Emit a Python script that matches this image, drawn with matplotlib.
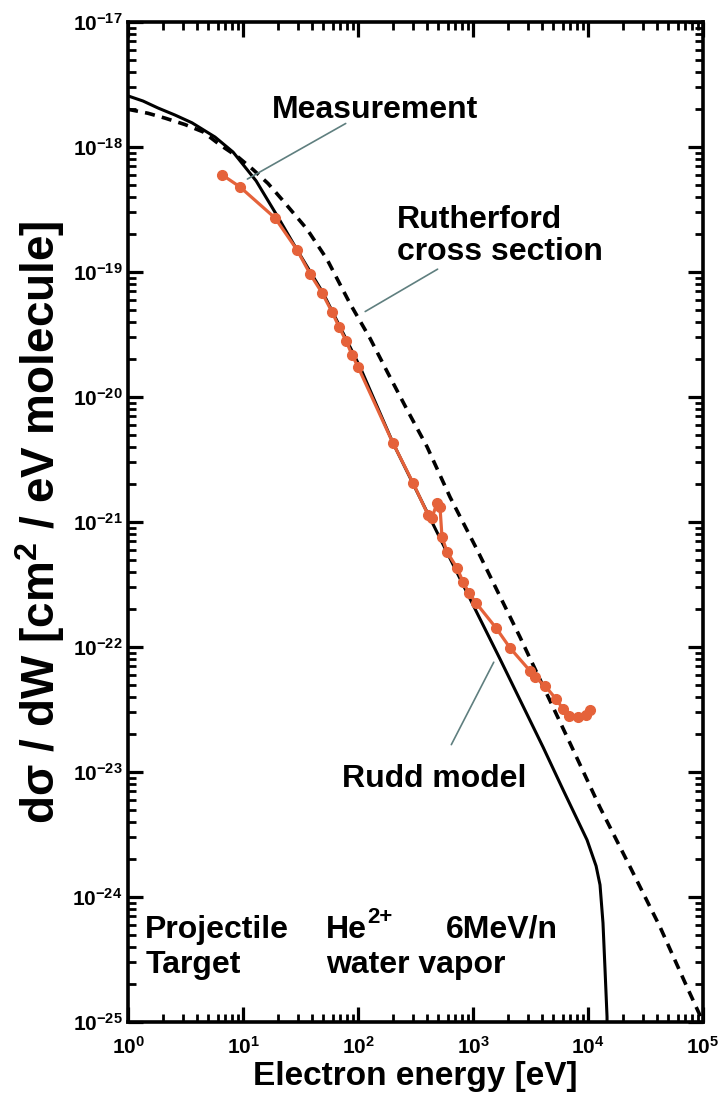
import matplotlib
matplotlib.use("Agg")
import matplotlib.pyplot as plt
from matplotlib.ticker import FuncFormatter, NullFormatter, FixedLocator
import numpy as np

plt.rcParams['font.family'] = ['Liberation Sans', 'DejaVu Sans']
plt.rcParams['font.weight'] = 'bold'
plt.rcParams['mathtext.fontset'] = 'custom'
plt.rcParams['mathtext.bf'] = 'Liberation Sans:bold'
plt.rcParams['mathtext.rm'] = 'Liberation Sans:bold'
plt.rcParams['mathtext.default'] = 'bf'
# tick look set up front, so every tick is made with it
plt.rcParams['xtick.direction'] = 'in'
plt.rcParams['ytick.direction'] = 'in'
plt.rcParams['xtick.top'] = True
plt.rcParams['ytick.right'] = True
plt.rcParams['xtick.major.size'] = 11
plt.rcParams['ytick.major.size'] = 11
plt.rcParams['xtick.major.width'] = 2.3
plt.rcParams['ytick.major.width'] = 2.3
plt.rcParams['xtick.minor.size'] = 6
plt.rcParams['ytick.minor.size'] = 6
plt.rcParams['xtick.minor.width'] = 2.0
plt.rcParams['ytick.minor.width'] = 2.0
plt.rcParams['xtick.major.pad'] = 10
plt.rcParams['ytick.major.pad'] = 4
plt.rcParams['xtick.labelsize'] = 15
plt.rcParams['ytick.labelsize'] = 15
plt.rcParams['axes.linewidth'] = 2.6

# measured spectrum (eV, cm^2/eV molecule)
meas_E = [6.6, 9.4, 19.0, 29.5, 38.3, 48.7, 59.4, 68.4, 78.7, 88.7, 100, 201,
          301, 406, 440, 486, 516, 537, 594, 726, 819, 923, 1062, 1585, 2098,
          3133, 3462, 4227, 5270, 6067, 6837, 8190, 9614, 10410]
meas_sig = [5.97e-19, 4.79e-19, 2.70e-19, 1.50e-19, 9.64e-20, 6.79e-20, 4.79e-20,
            3.63e-20, 2.81e-20, 2.17e-20, 1.74e-20, 4.29e-21, 2.05e-21, 1.14e-21,
            1.08e-21, 1.42e-21, 1.32e-21, 7.59e-22, 5.75e-22, 4.29e-22, 3.31e-22,
            2.70e-22, 2.25e-22, 1.42e-22, 9.82e-23, 6.43e-23, 5.75e-23, 4.88e-23,
            3.84e-23, 3.19e-23, 2.81e-23, 2.75e-23, 2.86e-23, 3.13e-23]

# Rudd model curve
rudd_E = [1.0, 1.35, 1.82, 2.56, 3.6, 5.71, 8.19, 13.0, 20.1, 29.5, 49.6, 104,
          201, 346, 449, 1084, 1718, 4064, 6067, 9800, 11750, 12710, 13490,
          14060, 14630, 14800]
rudd_sig = [2.56e-18, 2.33e-18, 2.05e-18, 1.80e-18, 1.56e-18, 1.20e-18, 9.1e-19,
            5.35e-19, 2.75e-19, 1.50e-19, 6.8e-20, 1.74e-20, 4.3e-21, 1.56e-21,
            9.6e-22, 1.87e-22, 8.0e-23, 1.58e-23, 7.2e-24, 2.86e-24, 1.77e-24,
            1.25e-24, 6.2e-25, 2.6e-25, 1.1e-25, 1e-26]

# Rutherford cross section
ruth_E = [1.0, 1.49, 2.1, 3.13, 4.49, 6.3, 9.06, 12.2, 16.5, 21.8, 36, 53.8, 85,
          127, 182, 267, 398, 631, 1084, 2560, 6970, 12710, 23200, 42300,
          72600, 1e5]
ruth_sig = [2.0e-18, 1.86e-18, 1.70e-18, 1.51e-18, 1.32e-18, 1.04e-18, 8.3e-19,
            6.6e-19, 5.1e-19, 3.8e-19, 2.2e-19, 1.26e-19, 5.6e-20, 2.95e-20,
            1.55e-20, 7.9e-21, 4.0e-21, 1.58e-21, 6.0e-22, 1.2e-22, 1.7e-23,
            5.2e-24, 1.74e-24, 5.75e-25, 1.9e-25, 1e-25]

x_dec = [0, 1, 2, 3, 4, 5]
y_dec = [-25, -24, -23, -22, -21, -20, -19, -18, -17]

fig = plt.figure(figsize=(7.25, 10.97), dpi=100)
ax = fig.add_axes([0.1766, 0.0684, 0.7931, 0.9116])
ax.set_xscale('log')
ax.set_yscale('log')
ax.set_xlim(1, 1e5)
ax.set_ylim(1e-25, 1e-17)

ax.xaxis.set_major_locator(FixedLocator([10.0 ** d for d in x_dec]))
ax.yaxis.set_major_locator(FixedLocator([10.0 ** d for d in y_dec]))
ax.xaxis.set_minor_locator(FixedLocator([m * 10.0 ** d for d in x_dec[:-1] for m in range(2, 10)]))
ax.yaxis.set_minor_locator(FixedLocator([m * 10.0 ** d for d in y_dec[:-1] for m in range(2, 10)]))
fmt = FuncFormatter(lambda v, p: r'$\mathbf{10^{%d}}$' % round(np.log10(v)))
ax.xaxis.set_major_formatter(fmt)
ax.yaxis.set_major_formatter(fmt)
ax.xaxis.set_minor_formatter(NullFormatter())
ax.yaxis.set_minor_formatter(NullFormatter())

orange = '#e5623a'
ax.plot(rudd_E, rudd_sig, color='black', lw=2.2, zorder=3)
ax.plot(ruth_E, ruth_sig, color='black', lw=2.6, linestyle=(0, (2.8, 2.0)), zorder=3)
ax.plot(meas_E, meas_sig, color=orange, lw=2.3, marker='o', ms=7,
        mec=orange, mfc=orange, zorder=4)
ax.set_xlim(1, 1e5)
ax.set_ylim(1e-25, 1e-17)

ax.set_xlabel('Electron energy [eV]', fontsize=24, fontweight='bold', labelpad=2)
ax.set_ylabel('d\u03c3 / dW [cm$^{2}$ / eV molecule]', fontsize=33,
              fontweight='bold', labelpad=4)

lead = '#5f7f7f'
ax.annotate('', xy=(10.4, 5.4e-19), xytext=(82, 1.58e-18),
            arrowprops=dict(arrowstyle='-', color=lead, lw=1.2))
ax.annotate('', xy=(110, 4.7e-20), xytext=(516, 1.08e-19),
            arrowprops=dict(arrowstyle='-', color=lead, lw=1.2))
ax.annotate('', xy=(1553, 7.9e-23), xytext=(631, 1.58e-23),
            arrowprops=dict(arrowstyle='-', color=lead, lw=1.2))

tk = dict(transform=ax.transAxes, fontsize=23, fontweight='bold', va='baseline')
ax.text(0.250, 0.904, 'Measurement', **tk)
ax.text(0.468, 0.794, 'Rutherford', **tk)
ax.text(0.468, 0.762, 'cross section', **tk)
ax.text(0.372, 0.235, 'Rudd model', **tk)
ax.text(0.030, 0.084, 'Projectile', **tk)
ax.text(0.030, 0.049, 'Target', **tk)
he = ax.text(0.344, 0.084, 'He', **tk)
ax.annotate('2+', xy=(1.02, 0.72), xycoords=he, fontsize=16, fontweight='bold',
            va='baseline', ha='left')
ax.text(0.553, 0.084, '6MeV/n', **tk)
ax.text(0.344, 0.049, 'water vapor', **tk)

fig.savefig('out.png', dpi=100)
